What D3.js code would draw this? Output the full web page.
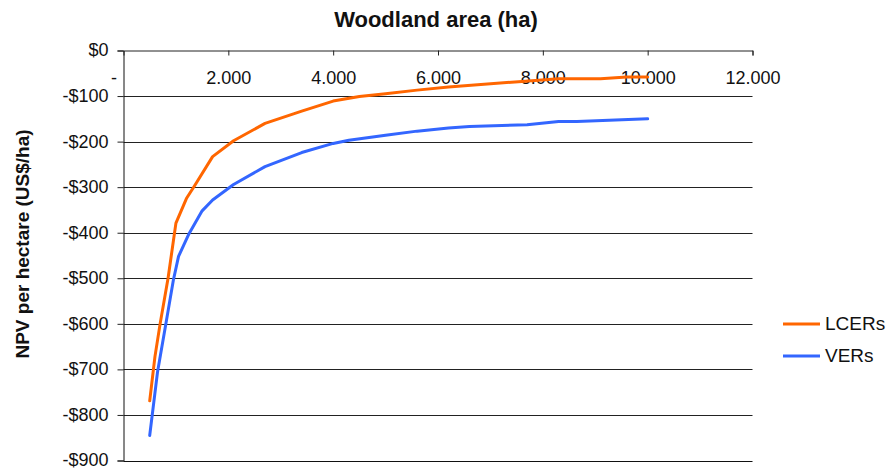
<!DOCTYPE html>
<html>
<head>
<meta charset="utf-8">
<script src="https://cdn.jsdelivr.net/npm/d3@7"></script>
<style>
  html, body { margin: 0; padding: 0; background: #fff; }
  svg { display: block; font-family: "Liberation Sans", Arial, sans-serif; }
</style>
</head>
<body>
<svg id="chart" width="887" height="469"></svg>
<script>
// ---- data ----
const seriesNames = ["LCERs", "VERs"];
const seriesColors = ["#FF6600", "#3366FF"];
const lcerX = [500, 600, 700, 850, 1000, 1200, 1350, 1700, 2100, 2700, 3400, 4000, 4500, 5000, 5600, 6200, 7600, 8300, 9100, 9600, 10000];
const lcerY = [-769, -672, -599, -500, -379, -325, -298, -233, -198, -160, -133, -111, -101, -95, -87, -80, -68, -62, -62, -58, -58];
const verX = [500, 650, 820, 950, 1050, 1250, 1500, 1700, 2100, 2700, 3400, 4000, 4300, 5000, 5600, 6200, 6600, 7700, 8300, 8650, 10000];
const verY = [-845, -705, -592, -505, -452, -402, -352, -328, -294, -255, -224, -204, -197, -186, -177, -170, -167, -163, -156, -156, -150];
const xTicks = [0, 2000, 4000, 6000, 8000, 10000, 12000];
const yTicks = [0, -100, -200, -300, -400, -500, -600, -700, -800, -900];
const titleText = "Woodland area (ha)";
const yTitleText = "NPV per hectare (US$/ha)";

(function () {
// ---- layout ----
const svg = d3.select("#chart");
const pLeft = 123.5, pRight = 752.5, pTop = 50.5, pBottom = 460.5;
const x = d3.scaleLinear().domain([0, 12000]).range([pLeft, pRight]);
const y = d3.scaleLinear().domain([0, -900]).range([pTop, pBottom]);

// gridlines
svg.append("g").selectAll("line").data(yTicks.filter(d => d !== 0 && d !== -900)).join("line")
  .attr("x1", pLeft).attr("x2", pRight)
  .attr("y1", d => Math.round(y(d)) + 0.5).attr("y2", d => Math.round(y(d)) + 0.5)
  .attr("stroke", "#222").attr("stroke-width", 1);

// bottom border
svg.append("line").attr("x1", pLeft).attr("x2", pRight)
  .attr("y1", Math.round(y(-900)) + 0.5).attr("y2", Math.round(y(-900)) + 0.5)
  .attr("stroke", "#111");

// y axis
const yAxis = d3.axisLeft(y).tickValues(yTicks).tickSize(6).tickPadding(9)
  .tickFormat(d => d === 0 ? "$0" : "-$" + Math.abs(d));
const gy = svg.append("g").attr("transform", `translate(${pLeft},0)`).call(yAxis);
gy.select(".domain").attr("stroke", "#111");
gy.selectAll(".tick line").attr("stroke", "#222");
gy.selectAll(".tick text").attr("font-size", 18).attr("fill", "#111")
  .attr("font-family", "Liberation Sans, Arial, sans-serif").attr("dy", "0.3em");

// x axis at y=0 (labels below line, ticks downward)
const xAxis = d3.axisBottom(x).tickValues(xTicks).tickSize(5).tickPadding(16)
  .tickFormat(d => d === 0 ? "-" : d3.format(",")(d).replace(",", "."));
const gx = svg.append("g").attr("transform", `translate(0,${pTop})`).call(xAxis);
gx.select(".domain").attr("stroke", "#222");
gx.selectAll(".tick line").attr("stroke", "#222");
gx.selectAll(".tick text").attr("font-size", 18).attr("fill", "#111")
  .attr("font-family", "Liberation Sans, Arial, sans-serif");
gx.selectAll(".tick").filter(d => d === 0).select("line").remove();
gx.selectAll(".tick").filter(d => d === 0).select("text").attr("dx", -10);

// lines
const line = d3.line().x(d => x(d[0])).y(d => y(d[1]));
const series = [
  lcerX.map((v, i) => [v, lcerY[i]]),
  verX.map((v, i) => [v, verY[i]])
];
svg.append("g").selectAll("path").data(series).join("path")
  .attr("d", line)
  .attr("fill", "none")
  .attr("stroke", (d, i) => seriesColors[i])
  .attr("stroke-width", 3)
  .attr("stroke-linejoin", "round")
  .attr("stroke-linecap", "round");

// title
svg.append("text").attr("x", 436).attr("y", 27).attr("text-anchor", "middle")
  .attr("font-size", 22).attr("font-weight", "bold").attr("fill", "#111").text(titleText);

// y title
svg.append("text").attr("transform", "translate(29,244) rotate(-90)").attr("text-anchor", "middle")
  .attr("font-size", 19).attr("font-weight", "bold").attr("fill", "#111").text(yTitleText);

// legend
const leg = svg.append("g").selectAll("g").data(seriesNames).join("g")
  .attr("transform", (d, i) => `translate(783,${324 + i * 32})`);
leg.append("line").attr("x1", 0).attr("x2", 37).attr("y1", 0).attr("y2", 0)
  .attr("stroke", (d, i) => seriesColors[i]).attr("stroke-width", 3);
leg.append("text").attr("x", 42).attr("y", 6).attr("font-size", 19).attr("fill", "#111")
  .text(d => d);
})();
</script>
</body>
</html>
